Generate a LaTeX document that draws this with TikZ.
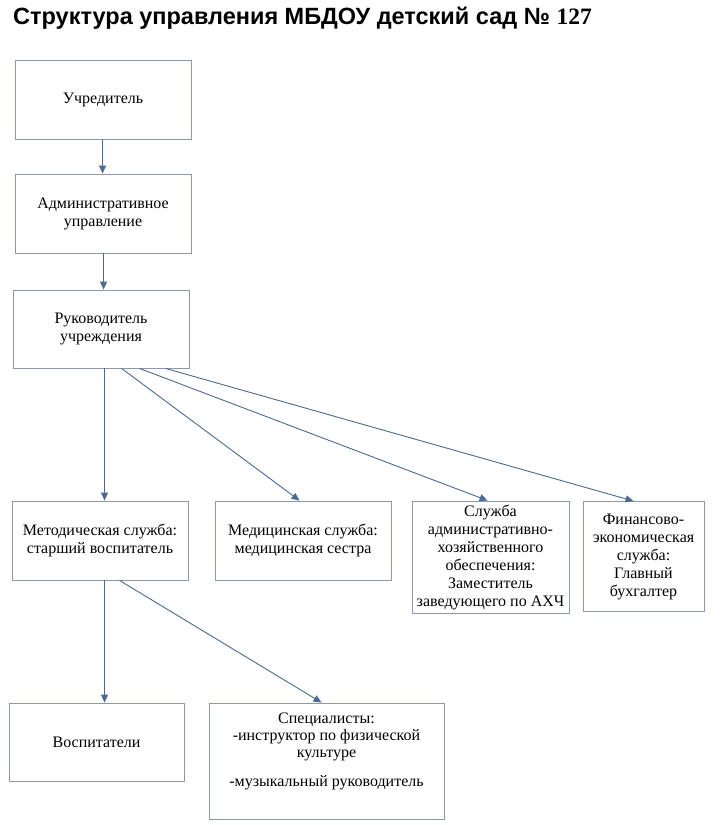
\documentclass[tikz,border=0pt]{standalone}
\usepackage{fontspec}
\setmainfont{Liberation Serif}
\newfontfamily\titlefont{Liberation Sans}
\usetikzlibrary{arrows.meta,calc}
\definecolor{boxc}{RGB}{140,153,172}
\definecolor{arrc}{RGB}{74,106,146}
\begin{document}
\begin{tikzpicture}[x=1pt,y=-1pt,
  box/.style={draw=boxc, line width=0.9pt, align=center, inner sep=0pt,
    font=\fontsize{16}{18}\selectfont},
  arr/.style={draw=arrc, line width=0.9pt, -{Triangle[width=7pt,length=8pt]}}]
\useasboundingbox (0,0) rectangle (720,825);
\node[anchor=base west, inner sep=0pt, font=\titlefont\bfseries\fontsize{23.5}{28}\selectfont] (title) at (13,24)
  {Структура управления МБДОУ детский сад № {\rmfamily 127}};
\node[box, minimum width=176, minimum height=79] (u) at (103,99.5) {Учредитель};
\node[box, minimum width=176, minimum height=79] (a) at (103,213.5) {Административное\\управление};
\node[box, minimum width=176, minimum height=78] (r) at (101,329) {Руководитель\\учреждения};
\node[box, minimum width=176, minimum height=79] (m) at (100,540.5) {Методическая служба:\\старший воспитатель};
\node[box, minimum width=176, minimum height=79] (med) at (303,540.5) {Медицинская служба:\\медицинская сестра};
\node[box, minimum width=157, minimum height=112] (axch) at (490.5,557) {Служба\\административно-\\хозяйственного\\обеспечения:\\Заместитель\\заведующего по АХЧ};
\node[box, minimum width=121, minimum height=110] (fin) at (643.5,556.5) {Финансово-\\экономическая\\служба:\\Главный\\бухгалтер};
\node[box, minimum width=175, minimum height=78] (v) at (96.5,742) {Воспитатели};
\node[box, minimum width=235, minimum height=116] (spec) at (326.5,761)
  {\parbox[c][96pt][t]{230pt}{\centering\fontsize{16}{17}\selectfont Специалисты:\\-инструктор по физической\\культуре\\[12pt]-музыкальный руководитель}};
\draw[arr] ([xshift=88pt]u.south west) -- ([xshift=88pt]a.north west);
\draw[arr] ([xshift=89pt]a.south west) -- ([xshift=91pt]r.north west);
\draw[arr] ([xshift=92pt]r.south west) -- ([xshift=93pt]m.north west);
\draw[arr] ([xshift=109pt]r.south west) -- ([xshift=85pt]med.north west);
\draw[arr] ([xshift=127pt]r.south west) -- ([xshift=76pt]axch.north west);
\draw[arr] ([xshift=153pt]r.south west) -- ([xshift=51pt]fin.north west);
\draw[arr] ([xshift=93pt]m.south west) -- ([xshift=96pt]v.north west);
\draw[arr] ([xshift=108pt]m.south west) -- ([xshift=113pt]spec.north west);
\end{tikzpicture}
\end{document}
